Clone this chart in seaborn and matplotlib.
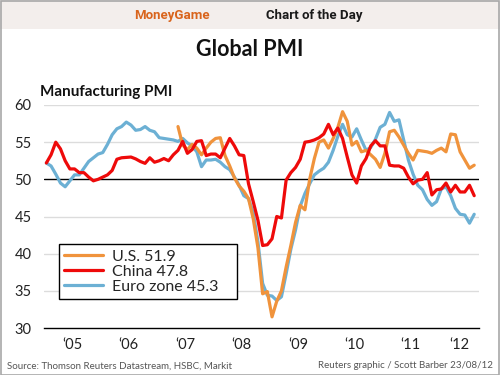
import numpy as np
import pandas as pd
import seaborn as sns
from matplotlib import pyplot as plt
from matplotlib.patches import Rectangle
from matplotlib.transforms import blended_transform_factory

# Monthly manufacturing PMI, Jan 2005 - Aug 2012 (flash)
china = [52.2, 53.3, 55.0, 54.1, 52.5, 51.4, 51.4, 50.9, 50.9, 50.3, 49.8, 50.0,
         50.3, 50.6, 51.2, 52.7, 52.9, 52.95, 53.0, 52.75, 52.4, 52.15, 52.9, 52.3,
         52.5, 52.8, 52.5, 53.3, 53.9, 55.1, 53.5, 54.0, 55.1, 55.2, 53.2, 53.4,
         53.4, 52.9, 54.2, 55.5, 54.5, 53.3, 53.2, 49.4, 47.0, 44.5, 41.1, 41.2,
         42.0, 45.0, 44.8, 49.9, 50.9, 51.6, 52.7, 55.0, 55.1, 55.3, 55.6, 56.1,
         57.4, 56.0, 56.9, 55.5, 53.0, 50.6, 49.5, 51.8, 52.8, 54.5, 55.2, 54.5,
         54.5, 51.9, 51.8, 51.8, 51.5, 50.3, 49.4, 49.9, 50.0, 50.9, 47.9, 48.6,
         48.7, 49.5, 48.3, 49.2, 48.3, 48.3, 49.2, 47.8]

euro = [52.2, 51.8, 50.7, 49.5, 49.0, 49.8, 50.6, 50.6, 51.5, 52.4, 52.9, 53.4,
        53.6, 54.7, 56.0, 56.8, 57.1, 57.7, 57.3, 56.6, 56.7, 57.1, 56.6, 56.4,
        55.6, 55.5, 55.4, 55.3, 55.1, 55.5, 54.9, 54.5, 53.7, 51.7, 52.6, 52.6,
        52.7, 52.3, 51.7, 51.3, 50.3, 49.2, 47.8, 47.4, 45.5, 41.6, 36.0, 34.4,
        34.3, 33.7, 34.2, 37.3, 40.6, 43.2, 46.4, 48.1, 49.4, 50.6, 51.1, 51.5,
        52.3, 53.9, 55.8, 57.4, 56.0, 55.7, 56.8, 55.3, 53.9, 54.3, 55.4, 57.0,
        57.4, 59.0, 57.8, 58.0, 55.3, 52.6, 50.7, 49.2, 48.6, 47.3, 46.5, 47.0,
        48.7, 49.0, 47.8, 46.1, 45.3, 45.2, 44.1, 45.3]

# U.S. series starts May 2007
us_start = 28
us = [57.1, 54.6, 54.0, 54.7, 54.2, 53.3, 54.2, 55.0,
      55.5, 55.6, 53.2, 51.8, 50.2, 49.1, 48.4, 47.4, 44.7, 40.8, 34.6, 34.9,
      31.5, 33.6, 35.0, 38.2, 41.1, 44.2, 46.5, 45.9, 50.0, 52.8, 55.0, 55.3,
      54.2, 55.5, 57.0, 59.1, 57.8, 54.6, 55.1, 53.7, 53.9, 53.3, 52.7, 51.6,
      53.5, 56.4, 56.6, 55.7, 54.6, 53.5, 52.6, 53.9, 53.8, 53.7, 53.5, 53.9,
      54.2, 53.7, 56.1, 56.0, 53.7, 52.6, 51.5, 51.9]

years = [2005, 2006, 2007, 2008, 2009, 2010, 2011, 2012]
year_labels = ["\u201805", "\u201806", "\u201807", "\u201808",
               "\u201809", "\u201810", "\u201811", "\u201812"]

n = len(china)
t = 2005 + (np.arange(n) + 0.5) / 12
x_end = 2012.71

df = pd.concat([
    pd.DataFrame({"t": t, "pmi": euro, "series": f"Euro zone {euro[-1]}"}),
    pd.DataFrame({"t": t[us_start:], "pmi": us, "series": f"U.S. {us[-1]}"}),
    pd.DataFrame({"t": t, "pmi": china, "series": f"China {china[-1]}"}),
])
palette = {f"U.S. {us[-1]}": "#f0933c",
           f"China {china[-1]}": "#ee0a0a",
           f"Euro zone {euro[-1]}": "#6cb0d4"}

sns.set_style("white")
plt.rcParams["font.family"] = ["Lato", "DejaVu Sans"]

fig = plt.figure(figsize=(5, 3.75), dpi=100)
ax = fig.add_axes([44 / 500, 1 - 328 / 375, 435 / 500, 223 / 375])

# grid and 50 line
for v in [35, 40, 45, 55, 60]:
    ax.axhline(v, color="#dcdcdc", lw=1, zorder=0)
ax.axhline(50, color="black", lw=1, zorder=1)

sns.lineplot(data=df, x="t", y="pmi", hue="series", palette=palette,
             linewidth=2.3, ax=ax, legend=False, zorder=3)

ax.set_xlim(2005.0, x_end)
ax.set_ylim(30, 60)
ax.set_yticks(range(30, 61, 5))
ax.tick_params(axis="y", length=0, labelsize=10.5, pad=9, colors="#222222")
ax.set_xlabel("")
ax.set_ylabel("")

# quarterly ticks, year labels centred in each year
ax.set_xticks(np.arange(2005.0, x_end, 0.25))
ax.set_xticklabels([])
ax.tick_params(axis="x", which="major", direction="out", length=4, width=1, color="black")
trans = blended_transform_factory(ax.transData, ax.transAxes)
for y, lab in zip(years, year_labels):
    c = (y + min(y + 1, x_end)) / 2
    ax.text(c, -0.075, lab, transform=trans, ha="center", va="center",
            fontsize=10.5, color="#222222")

for s in ["top", "right", "left"]:
    ax.spines[s].set_visible(False)
ax.spines["bottom"].set_color("black")
ax.spines["bottom"].set_linewidth(1)

# legend: fixed-size white box with black frame
ax.add_patch(Rectangle((0.034, 0.13), 0.409, 0.247, transform=ax.transAxes,
                       facecolor="white", edgecolor="black", lw=1, zorder=4))
order = [f"U.S. {us[-1]}", f"China {china[-1]}", f"Euro zone {euro[-1]}"]
handles = [plt.Line2D([], [], color=palette[k], lw=2.3) for k in order]
leg = ax.legend(handles, order, loc="center left", bbox_to_anchor=(0.034, 0.2535),
                fontsize=11.5, frameon=False, handlelength=2.4,
                handletextpad=0.6, labelspacing=0.05, borderpad=0.35,
                borderaxespad=0)
leg.set_zorder(5)

# header banner
fig.patches.append(Rectangle((0, 1 - 29 / 375), 1, 29 / 375, transform=fig.transFigure,
                             facecolor="#f3eeec", edgecolor="none", zorder=0))
fig.patches.append(Rectangle((0.001, 0.001), 0.997, 0.997, transform=fig.transFigure,
                             facecolor="none", edgecolor="#a8a8a8", lw=1.2, zorder=10))
fig.text(210 / 500, 1 - 15 / 375, "MoneyGame", ha="right", va="center",
         fontsize=9.5, fontweight="bold", color="#d9641c", family=["Roboto", "DejaVu Sans"])
fig.text(266 / 500, 1 - 15 / 375, "Chart of the Day", ha="left", va="center",
         fontsize=9.5, fontweight="bold", color="#1a1a1a", family=["Roboto", "DejaVu Sans"])

# little logo
logo_y = [1, 3, 1.5, 3.5, 2.5, 5]
lax = fig.add_axes([221 / 500, 1 - 25 / 375, 33 / 500, 19 / 375])
lax.plot(range(len(logo_y)), logo_y, color="#d9641c", lw=0.9)
lax.annotate("", xy=(5.6, 6.6), xytext=(4.6, 4.2),
             arrowprops=dict(arrowstyle="-|>", color="#d9641c", lw=0.9, mutation_scale=6))
lax.set_xlim(-0.3, 6)
lax.set_ylim(0, 7)
lax.axis("off")

fig.text(0.5, 1 - 50 / 375, "Global PMI", ha="center", va="center",
         fontsize=15.5, fontweight="bold", color="#111111")
fig.text(40 / 500, 1 - 92 / 375, "Manufacturing PMI", ha="left", va="center",
         fontsize=11, fontweight="bold", color="#111111")

fig.text(7 / 500, 1 - 366 / 375, "Source: Thomson Reuters Datastream, HSBC, Markit",
         ha="left", va="center", fontsize=7, color="#555555")
fig.text(493 / 500, 1 - 366 / 375, "Reuters graphic / Scott Barber 23/08/12",
         ha="right", va="center", fontsize=7, color="#555555")

plt.savefig("out.png", dpi=100)
